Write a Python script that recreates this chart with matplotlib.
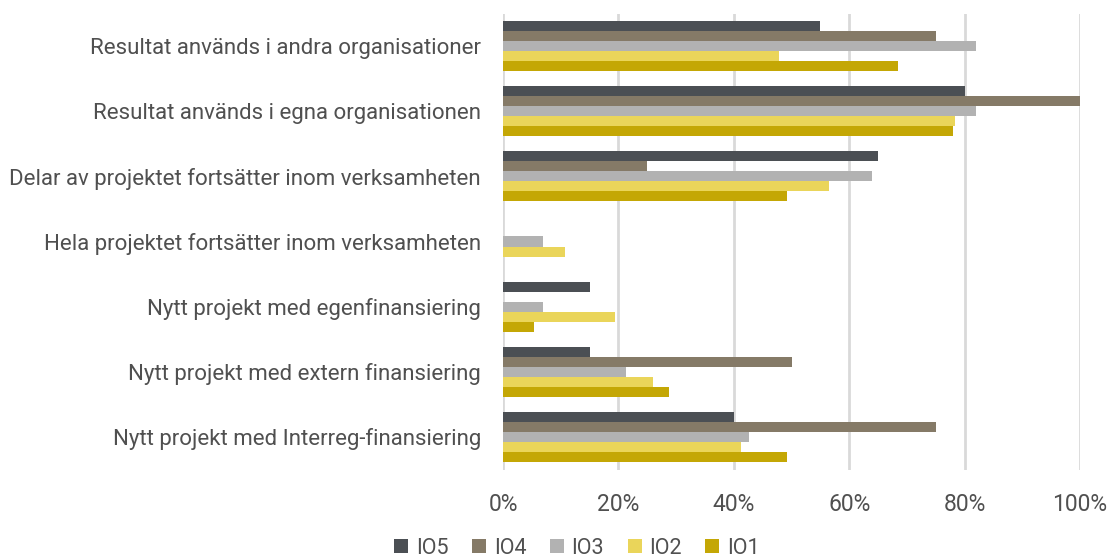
import matplotlib
matplotlib.use("Agg")
import matplotlib.pyplot as plt
import numpy as np
from matplotlib import font_manager

names = {f.name for f in font_manager.fontManager.ttflist}
fam = [f for f in ["Liberation Sans Narrow", "Roboto", "DejaVu Sans"] if f in names]
plt.rcParams['font.family'] = fam

categories = [
    "Resultat används i andra organisationer",
    "Resultat används i egna organisationen",
    "Delar av projektet fortsätter inom verksamheten",
    "Hela projektet fortsätter inom verksamheten",
    "Nytt projekt med egenfinansiering",
    "Nytt projekt med extern finansiering",
    "Nytt projekt med Interreg-finansiering",
]
series_names = ["IO5", "IO4", "IO3", "IO2", "IO1"]
io5 = [0.55, 0.80, 0.65, 0.0, 0.15, 0.15, 0.40]
io4 = [0.75, 1.00, 0.25, 0.0, 0.0, 0.50, 0.75]
io3 = [0.82, 0.82, 0.64, 0.07, 0.07, 0.213, 0.426]
io2 = [0.478, 0.783, 0.565, 0.107, 0.194, 0.26, 0.412]
io1 = [0.685, 0.78, 0.492, 0.0, 0.054, 0.288, 0.492]
colors = ["#4b4f54", "#857a67", "#b2b2b2", "#ead55a", "#c4a705"]
tick_vals = [0, 0.2, 0.4, 0.6, 0.8, 1.0]
tick_labels = ["0%", "20%", "40%", "60%", "80%", "100%"]

fig = plt.figure(figsize=(11.11, 5.57), dpi=100)
ax = fig.add_axes([503/1111, 1-469.5/557, 577/1111, 456/557])

data = [io5, io4, io3, io2, io1]
n = len(series_names)
h = 0.154
y = np.arange(len(categories))
for i, (name, vals, c) in enumerate(zip(series_names, data, colors)):
    offs = (i - (n - 1) / 2) * h
    ax.barh(y + offs, vals, height=h, color=c, label=name, zorder=3,
            linewidth=0)

ax.set_ylim(len(categories) - 0.5, -0.5)
ax.set_xlim(0, 1.0)
ax.set_yticks(y)
ax.set_yticklabels(categories, fontsize=16, color="#505050")
ax.set_xticks(tick_vals)
ax.set_xticklabels(tick_labels, fontsize=16.5, color="#505050")
ax.tick_params(axis='y', length=0, pad=16)
ax.tick_params(axis='x', length=0, pad=17)
ax.grid(axis='x', color="#d9d9d9", linewidth=2, zorder=0)
for s in ax.spines.values():
    s.set_visible(False)

leg = fig.legend(loc="center", bbox_to_anchor=(577/1111, 1-548/557), ncol=5,
                 frameon=False, fontsize=15.5, handlelength=0.65, handleheight=0.65,
                 handletextpad=0.35, columnspacing=1.1, labelcolor="#505050")

fig.savefig("out.png", dpi=100)
